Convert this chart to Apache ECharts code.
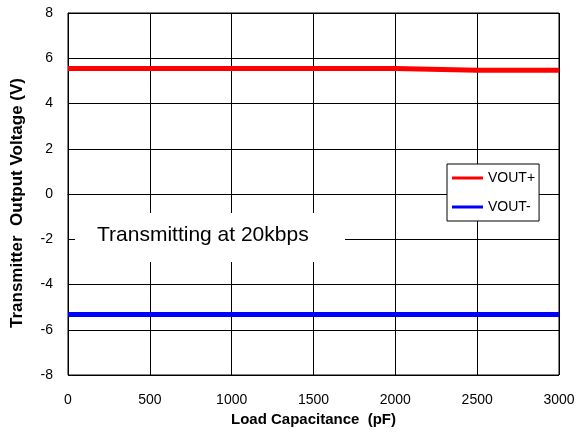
<!DOCTYPE html>
<html><head><meta charset="utf-8">
<script src="https://cdn.jsdelivr.net/npm/echarts@6/dist/echarts.min.js"></script>
<style>html,body{margin:0;padding:0;background:#fff}#c{width:588px;height:439px}</style>
</head><body><div id="c"></div>
<script>
const loadCap = [0, 500, 1000, 1500, 2000, 2500, 3000];
const voutPlus = [5.55, 5.55, 5.55, 5.55, 5.55, 5.47, 5.47];
const voutMinus = [-5.33, -5.33, -5.33, -5.33, -5.33, -5.33, -5.33];
const xTicks = [0, 500, 1000, 1500, 2000, 2500, 3000];
const yTicks = [-8, -6, -4, -2, 0, 2, 4, 6, 8];

const chart = echarts.init(document.getElementById('c'));
const font = 'Liberation Sans, Arial, sans-serif';
chart.setOption({
  animation: false,
  textStyle: {fontFamily: font},
  grid: {left: 68, right: 29, top: 13, bottom: 64, show: true, borderColor: '#000', borderWidth: 1},
  xAxis: {
    type: 'value', min: 0, max: 3000, interval: 500,
    name: 'Load Capacitance  (pF)', nameLocation: 'middle', nameGap: 34,
    nameTextStyle: {fontWeight: 'bold', fontSize: 15, color: '#000', fontFamily: font},
    axisLine: {lineStyle: {color: '#000'}}, axisTick: {show: false},
    axisLabel: {color: '#000', fontSize: 14, margin: 18, fontFamily: font,
      formatter: v => xTicks.includes(v) ? String(v) : ''},
    splitLine: {lineStyle: {color: '#000', width: 1}}
  },
  yAxis: {
    type: 'value', min: -8, max: 8, interval: 2,
    name: 'Transmitter  Output Voltage (V)', nameLocation: 'middle', nameGap: 42,
    nameTextStyle: {fontWeight: 'bold', fontSize: 17, color: '#000', fontFamily: font, padding: [0, 18, 0, 0]},
    axisLine: {lineStyle: {color: '#000'}}, axisTick: {show: false},
    axisLabel: {color: '#000', fontSize: 14, margin: 15, fontFamily: font,
      formatter: v => yTicks.includes(v) ? String(v) : ''},
    splitLine: {lineStyle: {color: '#000', width: 1}}
  },
  legend: {
    orient: 'vertical', left: 447, top: 164,
    padding: [7, 4, 7, 5], itemGap: 15,
    borderColor: '#000', borderWidth: 1, backgroundColor: '#fff',
    icon: 'rect', itemWidth: 31, itemHeight: 3,
    textStyle: {fontSize: 14, color: '#000', fontFamily: font},
    data: ['VOUT+', 'VOUT-']
  },
  graphic: [
    {type: 'rect', z: 1, shape: {x: 75, y: 213, width: 270, height: 49}, style: {fill: '#fff'}},
    {type: 'text', z: 1, left: 97, top: 225, style: {text: 'Transmitting at 20kbps', fontSize: 21, fill: '#000', fontFamily: font}}
  ],
  series: [
    {name: 'VOUT+', type: 'line', data: loadCap.map((x, i) => [x, voutPlus[i]]), showSymbol: false, symbol: 'none',
     lineStyle: {color: '#ff0000', width: 5}, itemStyle: {color: '#ff0000'}, z: 3},
    {name: 'VOUT-', type: 'line', data: loadCap.map((x, i) => [x, voutMinus[i]]), showSymbol: false, symbol: 'none',
     lineStyle: {color: '#0000ff', width: 5}, itemStyle: {color: '#0000ff'}, z: 3}
  ]
});
</script></body></html>
